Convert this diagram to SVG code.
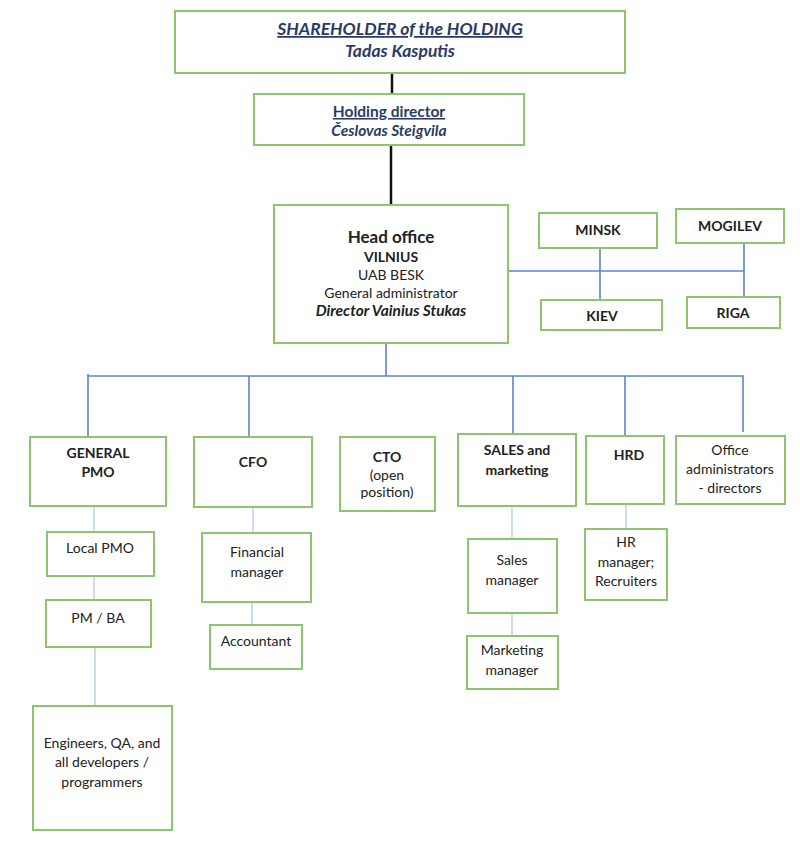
<svg xmlns="http://www.w3.org/2000/svg" width="800" height="846" viewBox="0 0 800 846">
<style>
.box{fill:#fff;stroke:#8cc56b;stroke-width:2}
.t{font-family:Lato,"Liberation Sans",sans-serif;font-size:14px;fill:#222;text-anchor:middle}
.b{font-weight:bold}
.bi{font-weight:bold;font-style:italic}
.navy{fill:#2a3a66}
.u{text-decoration:underline}
.s17{font-size:17.5px}
.s155{font-size:15.5px}
.s17h{font-size:17px}
.s15{font-size:15.5px}
.blk{stroke:#111;stroke-width:2.5;fill:none}
.bl{stroke:#5a85d0;stroke-width:1.6;fill:none}
.lb{stroke:#a9c3ec;stroke-width:1.2;fill:none}
</style>
<rect width="800" height="846" fill="#fff"/>
<g id="connectors">
<path class="blk" d="M392 73V94M391 145V205"/>
<path class="bl" d="M508 271H744M600 248V300M744 243V297"/>
<path class="bl" d="M386 343V376M88 374V436M88 376H743V432M249 376V436M513 376V434M625 376V436"/>
<path class="lb" d="M94 506V532M94 576V600M95 647V706M253 507V533M252 602V625M512 506V539M512 613V636M626 504V529"/>
</g>
<g id="shareholder"><rect class="box" x="175" y="11" width="450" height="62"/>
<text class="t bi navy u s17" x="400" y="35">SHAREHOLDER of the HOLDING</text>
<text class="t bi navy s17" x="400" y="57">Tadas Kasputis</text></g>
<g id="holding"><rect class="box" x="254" y="94" width="270" height="51"/>
<text class="t b navy u s155" x="389" y="117">Holding director</text>
<text class="t bi navy s155" x="389" y="136">Česlovas Steigvila</text></g>
<g id="head"><rect class="box" x="274" y="205" width="234" height="138"/>
<text class="t b s17h" x="391" y="243">Head office</text>
<text class="t b" x="391" y="262">VILNIUS</text>
<text class="t" x="391" y="280">UAB BESK</text>
<text class="t" x="391" y="298">General administrator</text>
<text class="t bi s15" x="391" y="316">Director Vainius Stukas</text></g>
<g id="minsk"><rect class="box" x="539" y="213" width="118" height="35"/><text class="t b" x="598" y="235">MINSK</text></g>
<g id="mogilev"><rect class="box" x="676" y="209" width="108" height="34"/><text class="t b" x="730" y="231">MOGILEV</text></g>
<g id="kiev"><rect class="box" x="541" y="300" width="121" height="30"/><text class="t b" x="602" y="321">KIEV</text></g>
<g id="riga"><rect class="box" x="687" y="297" width="93" height="31"/><text class="t b" x="733" y="318">RIGA</text></g>
<g id="pmo"><rect class="box" x="30" y="437" width="136" height="69"/><text class="t b" x="98" y="458">GENERAL</text><text class="t b" x="98" y="477">PMO</text></g>
<g id="cfo"><rect class="box" x="194" y="437" width="118" height="70"/><text class="t b" x="253" y="467">CFO</text></g>
<g id="cto"><rect class="box" x="340" y="437" width="95" height="74"/><text class="t b" x="387" y="462">CTO</text><text class="t" x="387" y="480">(open</text><text class="t" x="387" y="497">position)</text></g>
<g id="sales"><rect class="box" x="458" y="434" width="118" height="72"/><text class="t b" x="517" y="455">SALES and</text><text class="t b" x="517" y="475">marketing</text></g>
<g id="hrd"><rect class="box" x="586" y="436" width="78" height="68"/><text class="t b" x="629" y="460">HRD</text></g>
<g id="office"><rect class="box" x="676" y="436" width="109" height="68"/><text class="t" x="730" y="455">Office</text><text class="t" x="730" y="474">administrators</text><text class="t" x="730" y="493">- directors</text></g>
<g id="localpmo"><rect class="box" x="47" y="532" width="107" height="44"/><text class="t" x="100" y="553">Local PMO</text></g>
<g id="pmba"><rect class="box" x="46" y="600" width="105" height="47"/><text class="t" x="98" y="623">PM / BA</text></g>
<g id="engineers"><rect class="box" x="33" y="706" width="139" height="124"/><text class="t" x="102" y="748">Engineers, QA, and</text><text class="t" x="102" y="767">all developers /</text><text class="t" x="102" y="787">programmers</text></g>
<g id="finmgr"><rect class="box" x="202" y="533" width="109" height="69"/><text class="t" x="257" y="557">Financial</text><text class="t" x="257" y="577">manager</text></g>
<g id="accountant"><rect class="box" x="210" y="625" width="92" height="44"/><text class="t" x="256" y="646">Accountant</text></g>
<g id="salesmgr"><rect class="box" x="468" y="539" width="89" height="74"/><text class="t" x="512" y="565">Sales</text><text class="t" x="512" y="585">manager</text></g>
<g id="mktmgr"><rect class="box" x="467" y="636" width="91" height="53"/><text class="t" x="512" y="655">Marketing</text><text class="t" x="512" y="675">manager</text></g>
<g id="hrmgr"><rect class="box" x="585" y="529" width="82" height="71"/><text class="t" x="626" y="547">HR</text><text class="t" x="626" y="567">manager;</text><text class="t" x="626" y="586">Recruiters</text></g>
</svg>
